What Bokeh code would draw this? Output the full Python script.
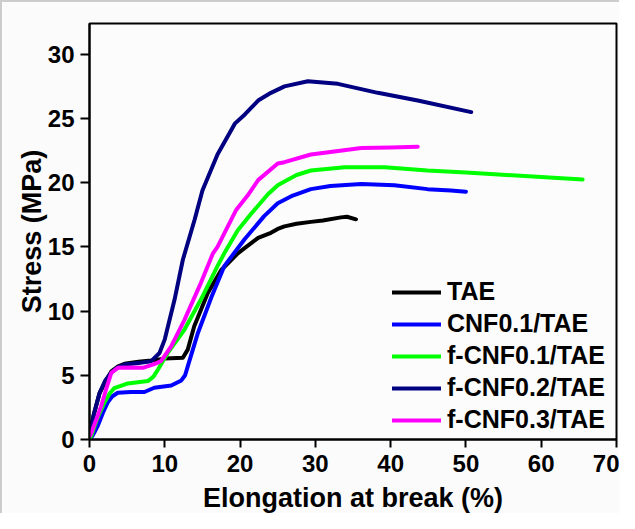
from bokeh.plotting import figure
from bokeh.models import Legend, LegendItem, Range1d, FixedTicker
from bokeh.embed import file_html
from bokeh.resources import INLINE

# ---- data ----
tae_x = [0, 0.5, 1.33, 2.2, 2.9, 3.8, 4.65, 6.5, 8.2, 10.0, 12.4, 13.05, 13.9, 15.7, 17.5, 19.7,
         20.6, 22.4, 24.1, 25.0, 25.9, 27.5, 29.4, 31.0, 33.4, 34.2, 35.4]
tae_y = [0.3, 1.8, 3.6, 4.6, 5.3, 5.7, 5.9, 6.05, 6.15, 6.3, 6.36, 7.0, 8.8, 11.4, 13.2, 14.5,
         14.9, 15.7, 16.1, 16.4, 16.6, 16.8, 16.95, 17.05, 17.3, 17.35, 17.15]

cnf01_x = [0.2, 0.6, 1.1, 1.8, 2.4, 3.0, 3.76, 5.5, 7.3, 8.6, 10.85, 12.2, 12.7, 13.05, 14.4, 16.2,
           17.9, 20.6, 23.2, 25.0, 27.0, 29.4, 32.0, 36.1, 40.5, 44.9, 48.0, 50.0]
cnf01_y = [0.1, 0.5, 1.06, 2.1, 2.87, 3.35, 3.64, 3.7, 3.7, 4.03, 4.2, 4.6, 5.0, 5.7, 8.3, 11.1,
           13.5, 15.6, 17.4, 18.4, 19.0, 19.5, 19.75, 19.9, 19.8, 19.5, 19.4, 19.3]

fcnf01_x = [0.2, 1.0, 2.0, 2.7, 3.3, 5.1, 7.75, 8.5, 9.1, 10.4, 12.6, 14.8, 17.0, 17.9, 19.7, 21.5,
            23.7, 25.0, 25.9, 27.5, 29.4, 33.9, 39.2, 44.9, 50.0, 53.8, 60.0, 65.5]
fcnf01_y = [0.2, 1.6, 2.9, 3.6, 4.0, 4.37, 4.55, 4.9, 5.45, 6.74, 8.55, 10.9, 13.5, 14.5, 16.3, 17.6,
            19.1, 19.8, 20.1, 20.6, 20.95, 21.2, 21.2, 20.95, 20.8, 20.65, 20.45, 20.25]

fcnf02_x = [0.1, 0.6, 1.33, 2.1, 2.87, 3.7, 4.65, 6.5, 8.2, 9.3, 10.0, 11.3, 12.4, 13.95, 15.0,
            17.0, 19.3, 20.6, 22.4, 24.1, 25.9, 29.0, 33.0, 38.3, 43.6, 50.7]
fcnf02_y = [0.5, 2.0, 3.6, 4.6, 5.2, 5.6, 5.84, 5.95, 6.1, 6.74, 7.8, 10.9, 14.0, 17.1, 19.4,
            22.2, 24.6, 25.3, 26.4, 27.0, 27.5, 27.9, 27.7, 27.0, 26.4, 25.5]

fcnf03_x = [0.1, 0.8, 1.55, 2.3, 2.9, 3.76, 5.5, 7.08, 8.5, 9.5, 10.85, 12.6, 14.8, 16.4, 17.0,
            19.5, 21.0, 22.4, 25.0, 25.9, 29.4, 32.0, 36.1, 40.0, 43.6]
fcnf03_y = [0.3, 1.4, 2.6, 4.1, 5.2, 5.58, 5.6, 5.58, 5.85, 6.1, 7.26, 9.3, 12.2, 14.5, 15.0,
            17.9, 19.0, 20.2, 21.5, 21.6, 22.2, 22.4, 22.7, 22.75, 22.8]

labels = ["TAE", "CNF0.1/TAE", "f-CNF0.1/TAE", "f-CNF0.2/TAE", "f-CNF0.3/TAE"]
colors = ["#000000", "#0000ff", "#00ff00", "#000080", "#ff00ff"]
x_ticks = [0, 10, 20, 30, 40, 50, 60, 70]
y_ticks = [0, 5, 10, 15, 20, 25, 30]

series = [(tae_x, tae_y), (cnf01_x, cnf01_y), (fcnf01_x, fcnf01_y),
          (fcnf02_x, fcnf02_y), (fcnf03_x, fcnf03_y)]

FONT = "Liberation Sans"

p = figure(width=619, height=513, output_backend="svg", toolbar_location=None,
           x_range=Range1d(0, 70), y_range=Range1d(0, 32.4),
           min_border_left=87, min_border_right=5, min_border_top=21, min_border_bottom=74)
p.styles = {"border-left": "2px solid #cccccc", "border-top": "2px solid #cccccc"}
p.background_fill_color = "#fcfcfc"
p.border_fill_color = "#fbfbfb"
p.outline_line_color = "black"
p.outline_line_width = 2
p.grid.visible = False

renderers = []
for (xs, ys), c in zip(series, colors):
    r = p.line(xs, ys, line_color=c, line_width=4, line_join="round", line_cap="round")
    renderers.append(r)

for ax in (p.xaxis[0], p.yaxis[0]):
    ax.axis_line_color = "black"
    ax.axis_line_width = 2
    ax.major_tick_line_width = 2
    ax.major_tick_line_color = "black"
    ax.major_tick_in = 0
    ax.minor_tick_line_color = None
    ax.major_label_text_font = FONT
    ax.major_label_text_font_style = "bold"
    ax.major_label_text_font_size = "24px"
    ax.major_label_text_color = "black"
    ax.axis_label_text_font = FONT
    ax.axis_label_text_font_style = "bold"
    ax.axis_label_text_font_size = "27px"
    ax.axis_label_text_color = "black"

p.xaxis.ticker = FixedTicker(ticks=x_ticks)
p.yaxis.ticker = FixedTicker(ticks=y_ticks)
p.xaxis.major_tick_out = 8
p.yaxis.major_tick_out = 9
p.xaxis.major_label_standoff = 7
p.yaxis.major_label_standoff = 6
p.xaxis.axis_label = "Elongation at break (%)"
p.yaxis.axis_label = "Stress (MPa)"
p.xaxis.axis_label_standoff = 8
p.yaxis.axis_label_standoff = -2

items = [LegendItem(label=l, renderers=[r]) for l, r in zip(labels, renderers)]
legend = Legend(items=items, location=(303, 5))
legend.border_line_color = None
legend.background_fill_alpha = 0
legend.padding = 0
legend.margin = 0
legend.spacing = 3
legend.glyph_width = 49
legend.glyph_height = 20
legend.label_standoff = 6
legend.label_text_font = FONT
legend.label_text_font_style = "bold"
legend.label_text_font_size = "25px"
legend.label_text_color = "black"
p.add_layout(legend, "center")

open("out.html", "w").write(file_html(p, INLINE))
